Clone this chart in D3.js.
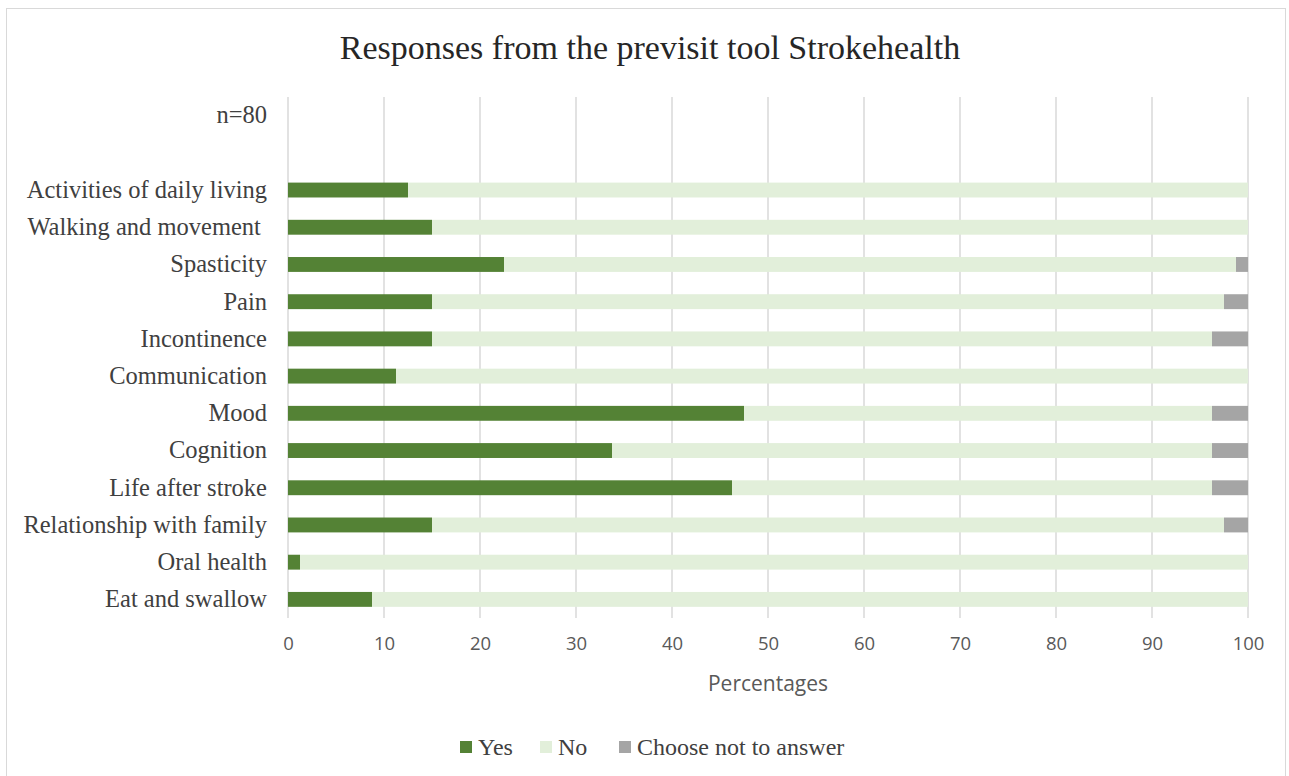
<!DOCTYPE html>
<html>
<head>
<meta charset="utf-8">
<script src="https://cdn.jsdelivr.net/npm/d3@7"></script>
<style>
  html, body { margin: 0; padding: 0; background: #fff; }
  svg { display: block; }
  text { white-space: pre; }
</style>
</head>
<body>
<div id="chart"></div>
<script>
// Chart data (percent of n=80 respondents)
const categories = [
  'n=80', '',
  'Activities of daily living', 'Walking and movement ', 'Spasticity', 'Pain',
  'Incontinence', 'Communication', 'Mood', 'Cognition', 'Life after stroke',
  'Relationship with family', 'Oral health', 'Eat and swallow'
]
const yesValues      = [0, 0, 12.5, 15, 22.5, 15, 15, 11.25, 47.5, 33.75, 46.25, 15, 1.25, 8.75]
const noValues       = [0, 0, 87.5, 85, 76.25, 82.5, 81.25, 88.75, 48.75, 62.5, 50, 82.5, 98.75, 91.25]
const noAnswerValues = [0, 0, 0, 0, 1.25, 2.5, 3.75, 0, 3.75, 3.75, 3.75, 2.5, 0, 0]

const seriesNames = ['Yes', 'No', 'Choose not to answer']
const seriesKeys = ['yes', 'no', 'noAnswer']
const seriesColors = ['#548235', '#E2EFDA', '#A5A5A5']
const xTicks = [0, 10, 20, 30, 40, 50, 60, 70, 80, 90, 100]

const W = 1289, H = 776
const margin = { left: 288, right: 41, top: 97, bottom: 158 }
const serif = '"Liberation Serif", "Times New Roman", serif'
const sans = '"Open Sans", "Noto Sans", sans-serif'

const rows = categories.map((c, i) => ({
  cat: c, yes: yesValues[i], no: noValues[i], noAnswer: noAnswerValues[i]
}))

const svg = d3.select('#chart').append('svg')
  .attr('width', W)
  .attr('height', H)

// Outer chart frame
svg.append('rect')
  .attr('x', 6.5).attr('y', 8.5)
  .attr('width', W - 10).attr('height', H + 20)
  .attr('fill', 'none')
  .attr('stroke', '#d9d9d9')
  .attr('stroke-width', 1)

// Title
svg.append('text')
  .attr('x', 650)
  .attr('y', 59)
  .attr('text-anchor', 'middle')
  .attr('font-family', serif)
  .attr('font-size', '34px')
  .attr('fill', '#262626')
  .text('Responses from the previsit tool Strokehealth')

const x = d3.scaleLinear()
  .domain([0, 100])
  .range([margin.left, W - margin.right])

const y = d3.scaleBand()
  .domain(categories)
  .range([margin.top, H - margin.bottom])
  .paddingInner(0.6)
  .paddingOuter(0.3)

// Vertical gridlines
svg.append('g')
  .selectAll('line')
  .data(xTicks)
  .join('line')
  .attr('x1', d => x(d)).attr('x2', d => x(d))
  .attr('y1', margin.top).attr('y2', H - margin.bottom)
  .attr('stroke', '#d9d9d9')
  .attr('stroke-width', 1.5)

// Stacked bars
const stack = d3.stack().keys(seriesKeys)
const layers = stack(rows)

svg.append('g')
  .selectAll('g')
  .data(layers)
  .join('g')
  .attr('fill', (d, i) => seriesColors[i])
  .selectAll('rect')
  .data(d => d.filter(p => p[1] > p[0]))
  .join('rect')
  .attr('x', d => x(d[0]))
  .attr('width', d => x(d[1]) - x(d[0]))
  .attr('y', d => y(d.data.cat))
  .attr('height', y.bandwidth())

// Category axis (labels only)
const yAxis = svg.append('g')
  .attr('transform', `translate(${margin.left - 21},0)`)
  .call(d3.axisLeft(y).tickSize(0).tickPadding(0))
yAxis.select('.domain').remove()
yAxis.selectAll('text')
  .attr('font-family', serif)
  .attr('font-size', '24.5px')
  .attr('fill', '#404040')

// Value axis
const xAxis = svg.append('g')
  .attr('transform', `translate(0,${H - margin.bottom})`)
  .call(d3.axisBottom(x).tickValues(xTicks).tickSize(0).tickPadding(19))
xAxis.select('.domain').remove()
xAxis.selectAll('text')
  .attr('font-family', sans)
  .attr('font-size', '18.5px')
  .attr('fill', '#595959')

svg.append('text')
  .attr('x', (x(0) + x(100)) / 2)
  .attr('y', 691)
  .attr('text-anchor', 'middle')
  .attr('font-family', sans)
  .attr('font-size', '21px')
  .attr('fill', '#595959')
  .text('Percentages')

// Legend
const legendX = [460, 540, 619]
const legend = svg.append('g')
  .selectAll('g')
  .data(seriesNames)
  .join('g')
  .attr('transform', (d, i) => `translate(${legendX[i]},741)`)

legend.append('rect')
  .attr('width', 12).attr('height', 12)
  .attr('fill', (d, i) => seriesColors[i])

legend.append('text')
  .attr('x', 18)
  .attr('y', 14)
  .attr('font-family', serif)
  .attr('font-size', '24px')
  .attr('fill', '#404040')
  .text(d => d)
</script>
</body>
</html>
